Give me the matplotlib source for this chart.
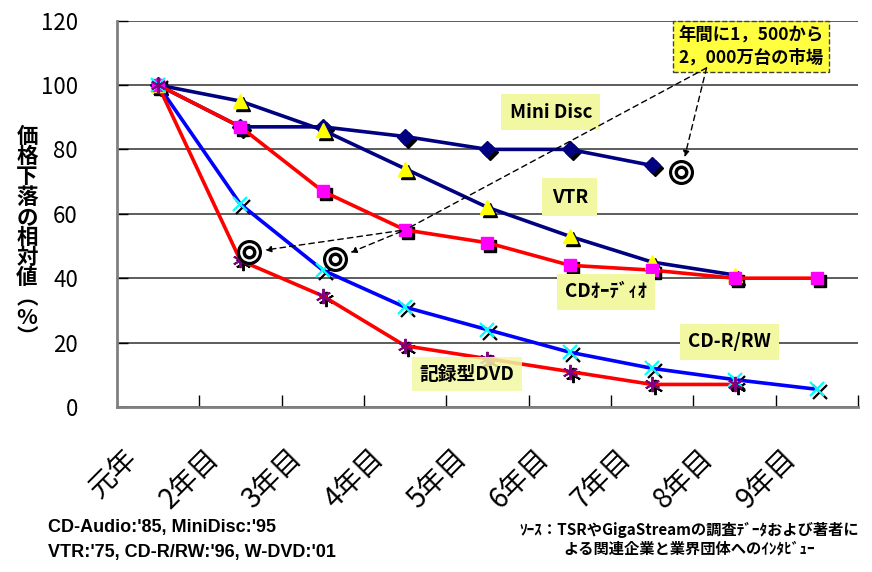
import matplotlib
matplotlib.use("Agg")

import matplotlib.pyplot as plt
import matplotlib.transforms as mtransforms

plt.rcParams["font.family"] = ["Noto Sans CJK JP", "DejaVu Sans"]

# Years since launch (x categories)
YEARS = ["元年", "2年目", "3年目", "4年目", "5年目", "6年目", "7年目", "8年目", "9年目"]

# Relative price (%) per product, year 1 = 100
MINI_DISC = [100, 87, 87, 84, 80, 80, 75]
VTR = [100, 95, 86, 74, 62, 53, 45, 41]
CD_AUDIO = [100, 87, 67, 55, 51, 44, 42.5, 40, 40]
CDR_RW = [100, 63, 42.5, 31, 24, 17, 12, 8.5, 5.5]
DVD = [100, 45.5, 34.5, 19, 15, 11, 7, 7]

# Points where each market reached 15-20 million units per year
MARKET_X = [1.1, 2.15, 6.35]
MARKET_Y = [48, 46, 73]

NOTE_LINES = ["CD-Audio:'85, MiniDisc:'95", "VTR:'75, CD-R/RW:'96, W-DVD:'01"]
SOURCE = "ｿｰｽ：TSRやGigaStreamの調査ﾃﾞｰﾀおよび著者に\nよる関連企業と業界団体へのｲﾝﾀﾋﾞｭｰ"

LABEL_BG = "#f2f8a2"


def plot_series(ax, shadow, values, line_color, marker, face, edge, ms, mew=1.0):
    xs = list(range(len(values)))
    # black drop shadow under the markers
    ax.plot(xs, values, linestyle="none", marker=marker, ms=ms, mfc="black",
            mec="black", mew=mew, transform=shadow, zorder=3)
    ax.plot(xs, values, color=line_color, lw=2.6, zorder=4)
    ax.plot(xs, values, linestyle="none", marker=marker, ms=ms, mfc=face,
            mec=edge, mew=mew, zorder=5)


fig = plt.figure(figsize=(8.72, 5.72), dpi=100)
ax = fig.add_axes([0.134, 0.2885, 0.850, 0.6755])

shadow = mtransforms.offset_copy(ax.transData, fig=fig, x=3, y=-3, units="dots")

plot_series(ax, shadow, MINI_DISC, "#000080", "D", "#000080", "#000080", 8.5)
plot_series(ax, shadow, VTR, "#000080", "^", "#ffff00", "#ffff00", 10)
plot_series(ax, shadow, CD_AUDIO, "#ff0000", "s", "#ff00ff", "#ff00ff", 9)
plot_series(ax, shadow, CDR_RW, "#0000ff", "x", "#00ffff", "#00ffff", 10, mew=1.6)
plot_series(ax, shadow, DVD, "#ff0000", (6, 2, 0), "#800080", "#800080", 11, mew=1.4)

# double-ring markers
for size, col in [(17, "black"), (12.5, "white"), (9, "black"), (4, "white")]:
    ax.plot(MARKET_X, MARKET_Y, linestyle="none", marker="o", ms=size,
            mfc=col, mec=col, zorder=7)

# axes styling
ax.set_xlim(-0.5, len(YEARS) - 0.5)
ax.set_ylim(0, 120)
ax.set_yticks(range(0, 121, 20))
ax.yaxis.grid(True, color="#303030", lw=1.1)
ax.set_axisbelow(True)
for side in ["top", "right"]:
    ax.spines[side].set_visible(False)
for side in ["left", "bottom"]:
    ax.spines[side].set_color("#808080")
    ax.spines[side].set_linewidth(2)
ax.tick_params(axis="y", direction="in", length=8, width=1, labelsize=16, pad=28)

ax.set_xticks(range(len(YEARS)))
ax.set_xticklabels(YEARS, fontsize=20, rotation=45, ha="right", va="top",
                   rotation_mode="anchor")
ax.set_xticks([i + 0.5 for i in range(len(YEARS))], minor=True)
ax.tick_params(axis="x", which="major", length=0, pad=26)
ax.tick_params(axis="x", which="minor", direction="in", length=9, width=1)
shift = mtransforms.ScaledTranslation(-0.36, 0, fig.dpi_scale_trans)
for lab in ax.get_xticklabels():
    lab.set_transform(lab.get_transform() + shift)

# series labels
label_kw = dict(fontsize=13.5, fontweight="bold", ha="center", va="center", zorder=6)
ax.text(4.77, 91.6, "Mini Disc",
        bbox=dict(boxstyle="square,pad=0.45", fc=LABEL_BG, ec="none"), **label_kw)
ax.text(5.0, 65.2, "VTR",
        bbox=dict(boxstyle="square,pad=0.5", fc=LABEL_BG, ec="none"), **label_kw)
ax.text(5.44, 35.8, "CDｵｰﾃﾞｨｵ",
        bbox=dict(boxstyle="square,pad=0.45", fc=LABEL_BG, ec="none"), **label_kw)
ax.text(6.94, 20.2, "CD-R/RW",
        bbox=dict(boxstyle="square,pad=0.45", fc=LABEL_BG, ec="none"), **label_kw)
ax.text(3.75, 10.2, "記録型DVD",
        bbox=dict(boxstyle="square,pad=0.4", fc=LABEL_BG, ec="none", alpha=0.85),
        **label_kw)

# market size callout
ax.text(7.2, 112, "年間に1，500から\n2，000万台の市場", fontsize=12.5,
        fontweight="bold", ha="center", va="center", linespacing=1.3, zorder=8,
        bbox=dict(boxstyle="square,pad=0.3", fc="#ffff40", ec="#404040",
                  ls="--", lw=1))
hub = (3, CD_AUDIO[3])
dash = dict(color="black", lw=1, ls=(0, (4, 3)))
ax.annotate("", xy=hub, xytext=(6.66, 105.3),
            arrowprops=dict(arrowstyle="-", shrinkA=0, shrinkB=3, **dash), zorder=8)
ax.annotate("", xy=(MARKET_X[2], MARKET_Y[2]), xytext=(6.66, 105.3),
            arrowprops=dict(arrowstyle="-|>", mutation_scale=9, shrinkA=0,
                            shrinkB=11, **dash), zorder=8)
for mx, my in zip(MARKET_X[:2], MARKET_Y[:2]):
    ax.annotate("", xy=(mx, my), xytext=hub,
                arrowprops=dict(arrowstyle="-|>", mutation_scale=9, shrinkA=3,
                                shrinkB=12, **dash), zorder=8)

# vertical y-axis title
fig.text(0.031, 0.585, "\n".join("価格下落の相対値︵%︶"), fontsize=15.5,
         fontweight="bold", ha="center", va="center", linespacing=0.95)

fig.text(0.055, 0.056, "\n".join(NOTE_LINES), fontsize=13, family="Liberation Sans",
         fontweight="bold", ha="left", va="center", linespacing=1.6)
fig.text(0.79, 0.058, SOURCE, fontsize=11, fontweight="bold", ha="center",
         va="center", linespacing=1.2)

fig.savefig("out.png", dpi=100)
